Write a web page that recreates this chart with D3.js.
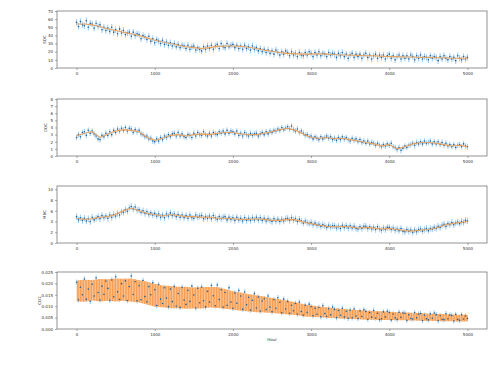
<!DOCTYPE html>
<html>
<head>
<meta charset="utf-8">
<script src="https://cdn.jsdelivr.net/npm/d3@7"></script>
<style>
  body { margin: 0; background: #fff; }
  svg { display: block; font-family: "DejaVu Sans", sans-serif; }
</style>
</head>
<body>
<svg id="chart" width="499" height="375"></svg>
<script>
// sampling grid of the observations (every 25 h) and of the model curves (every 100 h)
const hours = d3.range(0, 5001, 25);
const curveHours = d3.range(0, 5001, 100);

const xTicks = [0, 1000, 2000, 3000, 4000, 5000];
const yLabels = ["SOC", "DOC", "MBC", "CO2"];
const yTicksSoc = [0, 10, 20, 30, 40, 50, 60, 70];
const yTicksDoc = [0, 1, 2, 3, 4, 5, 6, 7, 8];
const yTicksMbc = [0, 2, 4, 6, 8, 10];
const yTicksCo2 = [0, 0.005, 0.01, 0.015, 0.02, 0.025];

// observation error (half width of the light blue bars)
const obsErr = [4, 0.4, 0.6, 0.0012];

const socObs = [
  56, 51, 57, 53, 52, 58, 50, 55, 54, 49, 55, 51, 53, 47, 50, 46, 49, 45, 50, 44,
  47, 42, 48, 43, 46, 41, 43, 44, 39, 44, 40, 42, 41, 36, 40, 38, 35, 39, 33, 36,
  31, 35, 33, 30, 34, 29, 32, 28, 31, 27, 30, 26, 29, 25, 28, 27, 24, 28, 23, 26,
  27, 22, 25, 23, 21, 26, 23, 27, 24, 28, 23, 27, 29, 24, 30, 26, 25, 30, 26, 28,
  29, 25, 28, 24, 27, 23, 28, 24, 26, 22, 27, 23, 25, 21, 24, 20, 23, 19, 22, 18,
  21, 17, 22, 19, 16, 20, 17, 21, 19, 15, 20, 16, 18, 14, 19, 16, 15, 19, 16, 20,
  18, 14, 19, 16, 20, 15, 18, 17, 14, 19, 16, 18, 17, 13, 18, 15, 19, 14, 17, 12,
  16, 18, 13, 17, 14, 17, 12, 16, 18, 13, 16, 11, 15, 17, 12, 16, 13, 16, 11, 15,
  17, 12, 15, 10, 14, 16, 11, 15, 12, 15, 11, 16, 14, 10, 15, 12, 16, 11, 14, 13,
  10, 15, 12, 14, 13, 9, 14, 11, 15, 12, 10, 14, 11, 13, 9, 15, 12, 10, 14, 11,
  13
];
const socMean = [
  54, 54, 53, 51, 48, 46, 44, 42, 40, 37, 34, 32, 30, 28, 26, 25, 24, 25, 26.5, 27,
  27, 26.5, 25.5, 24, 22, 20.5, 19, 18, 17.5, 17, 17, 17.5, 17, 16.5, 16, 16, 15.5, 15, 15, 14.5,
  14, 14, 13.5, 13.5, 13, 13, 12.5, 12.5, 12, 12, 12
];

const docObs = [
  2.6, 3.0, 2.7, 3.3, 3.4, 2.9, 3.6, 3.2, 3.5, 3.1, 2.8, 2.4, 2.3, 2.9, 2.7, 3.2, 2.9, 3.4, 3.0, 3.6,
  3.3, 3.8, 3.5, 3.9, 3.6, 4.0, 3.5, 3.9, 3.8, 3.3, 3.7, 3.4, 3.6, 3.1, 3.0, 2.7, 2.8, 2.4, 2.5, 2.1,
  2.0, 2.4, 2.1, 2.6, 2.3, 2.8, 2.6, 3.0, 2.7, 3.1, 3.2, 2.8, 3.3, 2.8, 3.1, 2.7, 2.6, 3.0, 2.9, 2.6,
  3.2, 2.8, 3.3, 3.0, 2.9, 3.4, 3.0, 2.8, 3.2, 2.8, 3.3, 3.1, 3.0, 3.4, 3.2, 3.5, 3.1, 3.6, 3.2, 3.5,
  3.4, 3.1, 3.5, 2.9, 3.2, 2.8, 3.3, 3.0, 2.8, 3.2, 2.9, 3.1, 3.2, 2.8, 3.1, 3.3, 3.0, 3.4, 3.1, 3.5,
  3.3, 3.6, 3.5, 3.8, 3.6, 4.0, 3.7, 3.9, 4.1, 3.8, 4.2, 3.7, 3.5, 3.8, 3.3, 3.5, 3.2, 2.9, 3.0, 2.7,
  2.8, 2.4, 2.7, 2.5, 2.3, 2.7, 2.4, 2.6, 2.8, 2.5, 2.7, 2.3, 2.5, 2.2, 2.6, 2.3, 2.7, 2.4, 2.6, 2.3,
  2.1, 2.5, 2.2, 2.4, 2.0, 2.3, 1.9, 2.1, 1.8, 2.1, 1.7, 1.9, 1.8, 1.5, 1.8, 1.5, 1.3, 1.6, 1.4, 1.7,
  1.5, 1.8, 1.3, 1.2, 0.9, 1.2, 0.8, 1.1, 1.4, 1.2, 1.5, 1.6, 1.8, 1.5, 1.9, 1.7, 2.0, 1.7, 2.1, 1.8,
  1.9, 2.1, 1.7, 2.0, 1.7, 2.0, 1.6, 1.9, 1.5, 1.8, 1.4, 1.6, 1.3, 1.6, 1.2, 1.5, 1.6, 1.3, 1.7, 1.4,
  1.3
];
const docMean = [
  2.8, 3.2, 3.4, 2.6, 3.1, 3.5, 3.7, 3.6, 3.4, 2.6, 2.2, 2.5, 2.9, 3.0, 2.8, 3.0, 3.1, 3.0, 3.2, 3.3,
  3.3, 3.1, 3.0, 3.0, 3.2, 3.4, 3.7, 3.9, 3.6, 3.1, 2.6, 2.5, 2.6, 2.4, 2.5, 2.3, 2.1, 1.9, 1.7, 1.4,
  1.6, 1.0, 1.3, 1.7, 1.9, 1.9, 1.8, 1.6, 1.4, 1.5, 1.3
];

const mbcObs = [
  4.9, 4.3, 4.7, 4.2, 4.6, 4.1, 4.5, 4.0, 4.8, 4.3, 4.6, 4.9, 4.5, 5.1, 4.7, 5.0, 4.6, 5.2, 4.8, 5.3,
  5.0, 5.5, 5.2, 5.8, 5.7, 6.2, 5.9, 6.5, 6.8, 6.3, 6.7, 6.1, 6.2, 5.7, 6.0, 5.5, 5.8, 5.3, 5.6, 5.2,
  5.5, 5.0, 5.4, 4.8, 5.2, 4.7, 5.4, 5.0, 5.6, 5.1, 5.4, 4.9, 5.3, 4.8, 5.2, 4.7, 5.1, 4.6, 5.2, 4.7,
  4.6, 5.2, 4.8, 5.0, 5.1, 4.5, 4.9, 4.6, 5.0, 4.5, 5.1, 4.7, 4.4, 4.9, 4.5, 4.8, 4.9, 4.3, 4.8, 4.4,
  4.7, 4.2, 4.8, 4.3, 4.6, 4.1, 4.7, 4.2, 4.6, 4.2, 4.7, 4.3, 4.8, 4.3, 4.7, 4.2, 4.6, 4.1, 4.5, 4.2,
  4.0, 4.5, 4.1, 4.4, 4.0, 4.4, 4.1, 4.5, 4.6, 4.2, 4.7, 4.3, 4.5, 4.0, 4.4, 4.1, 3.7, 4.1, 3.8, 3.6,
  3.8, 3.4, 3.7, 3.3, 3.5, 3.1, 3.4, 3.2, 2.9, 3.3, 3.0, 3.2, 3.2, 2.8, 3.1, 2.7, 3.3, 2.9, 3.2, 2.8,
  3.2, 2.8, 3.1, 2.7, 2.6, 3.0, 2.7, 3.1, 3.1, 2.7, 3.0, 2.6, 2.9, 2.5, 3.0, 2.6, 2.4, 2.8, 2.5, 2.9,
  2.9, 2.5, 2.8, 2.4, 2.6, 2.3, 2.7, 2.2, 2.1, 2.5, 2.2, 2.4, 2.0, 2.4, 2.1, 2.5, 2.6, 2.2, 2.5, 2.7,
  2.3, 2.7, 2.6, 2.9, 2.7, 3.1, 2.9, 3.3, 3.5, 3.1, 3.6, 3.4, 3.8, 3.4, 3.7, 3.9, 3.6, 4.0, 3.8, 4.2,
  4.1
];
const mbcMean = [
  4.6, 4.4, 4.5, 4.8, 4.9, 5.3, 6.0, 6.5, 6.0, 5.5, 5.3, 5.0, 5.3, 5.1, 4.9, 4.9, 4.8, 4.8, 4.6, 4.6,
  4.5, 4.4, 4.4, 4.5, 4.4, 4.2, 4.2, 4.4, 4.3, 3.9, 3.6, 3.3, 3.1, 3.0, 3.1, 3.0, 2.8, 2.9, 2.8, 2.6,
  2.7, 2.5, 2.3, 2.2, 2.4, 2.5, 2.8, 3.3, 3.6, 3.8, 4.0
];

const co2Obs = [
  0.0205, 0.0128, 0.0183, 0.0150, 0.0219, 0.0131, 0.0175, 0.0122, 0.0196, 0.0145, 0.0224, 0.0160,
  0.0127, 0.0188, 0.0152, 0.0210, 0.0178, 0.0126, 0.0215, 0.0141, 0.0229, 0.0163, 0.0130, 0.0199,
  0.0145, 0.0211, 0.0125, 0.0186, 0.0232, 0.0151, 0.0207, 0.0124, 0.0190, 0.0128, 0.0213, 0.0142,
  0.0119, 0.0186, 0.0150, 0.0203, 0.0172, 0.0103, 0.0195, 0.0131, 0.0112, 0.0181, 0.0136, 0.0098,
  0.0175, 0.0120, 0.0186, 0.0101, 0.0156, 0.0095, 0.0182, 0.0127, 0.0108, 0.0170, 0.0121, 0.0188,
  0.0149, 0.0092, 0.0179, 0.0115, 0.0184, 0.0124, 0.0097, 0.0165, 0.0118, 0.0191, 0.0146, 0.0102,
  0.0193, 0.0129, 0.0172, 0.0096, 0.0160, 0.0104, 0.0181, 0.0118, 0.0091, 0.0158, 0.0113, 0.0169,
  0.0145, 0.0087, 0.0162, 0.0106, 0.0139, 0.0083, 0.0126, 0.0155, 0.0092, 0.0140, 0.0079, 0.0123,
  0.0133, 0.0085, 0.0145, 0.0096, 0.0076, 0.0128, 0.0091, 0.0137, 0.0117, 0.0072, 0.0131, 0.0088,
  0.0121, 0.0069, 0.0104, 0.0080, 0.0112, 0.0066, 0.0118, 0.0077, 0.0061, 0.0104, 0.0073, 0.0109,
  0.0098, 0.0058, 0.0091, 0.0065, 0.0094, 0.0054, 0.0102, 0.0068, 0.0056, 0.0089, 0.0062, 0.0096,
  0.0086, 0.0050, 0.0081, 0.0060, 0.0091, 0.0053, 0.0078, 0.0047, 0.0082, 0.0049, 0.0088, 0.0057,
  0.0046, 0.0079, 0.0055, 0.0084, 0.0077, 0.0043, 0.0072, 0.0052, 0.0081, 0.0048, 0.0069, 0.0041,
  0.0045, 0.0075, 0.0053, 0.0078, 0.0072, 0.0040, 0.0066, 0.0049, 0.0042, 0.0073, 0.0051, 0.0070,
  0.0069, 0.0038, 0.0062, 0.0046, 0.0044, 0.0071, 0.0049, 0.0065, 0.0068, 0.0037, 0.0060, 0.0045,
  0.0040, 0.0066, 0.0047, 0.0070, 0.0063, 0.0036, 0.0058, 0.0043, 0.0041, 0.0067, 0.0045, 0.0061,
  0.0059, 0.0035, 0.0064, 0.0042, 0.0038, 0.0062, 0.0044, 0.0057, 0.0046
];
const co2Mean = [
  0.0167, 0.0168, 0.0170, 0.0170, 0.0171, 0.0171, 0.0172, 0.0170, 0.0165, 0.0158, 0.0148, 0.0143,
  0.0140, 0.0138, 0.0137, 0.0136, 0.0137, 0.0139, 0.0138, 0.0132, 0.0125, 0.0120, 0.0115, 0.0111,
  0.0107, 0.0103, 0.0099, 0.0094, 0.0089, 0.0083, 0.0078, 0.0075, 0.0072, 0.0069, 0.0067, 0.0065,
  0.0063, 0.0061, 0.0060, 0.0059, 0.0058, 0.0056, 0.0055, 0.0054, 0.0053, 0.0052, 0.0051, 0.0050,
  0.0049, 0.0048, 0.0048
];
// half width of the model band (orange)
const co2Spread = [
  0.0046, 0.0048, 0.0045, 0.0049, 0.0047, 0.0050, 0.0048, 0.0051, 0.0049, 0.0050, 0.0050, 0.0048,
  0.0049, 0.0047, 0.0048, 0.0046, 0.0047, 0.0045, 0.0046, 0.0043, 0.0041, 0.0040, 0.0038, 0.0037,
  0.0035, 0.0033, 0.0032, 0.0030, 0.0028, 0.0027, 0.0025, 0.0024, 0.0023, 0.0022, 0.0022, 0.0021,
  0.0020, 0.0020, 0.0019, 0.0019, 0.0018, 0.0018, 0.0017, 0.0017, 0.0017, 0.0016, 0.0016, 0.0016,
  0.0015, 0.0015, 0.0015
];

const panels = [
  { label: yLabels[0], obs: socObs, mean: socMean, spread: null, err: obsErr[0], ticks: yTicksSoc, top: 70, fmt: d3.format("d"), labelX: 46 },
  { label: yLabels[1], obs: docObs, mean: docMean, spread: null, err: obsErr[1], ticks: yTicksDoc, top: 8, fmt: d3.format("d"), labelX: 47 },
  { label: yLabels[2], obs: mbcObs, mean: mbcMean, spread: null, err: obsErr[2], ticks: yTicksMbc, top: 10.6, fmt: d3.format("d"), labelX: 46 },
  { label: yLabels[3], obs: co2Obs, mean: co2Mean, spread: co2Spread, err: obsErr[3], ticks: yTicksCo2, top: 0.025, fmt: d3.format(".3f"), labelX: 41 }
];

const svg = d3.select("#chart");
const left = 57, right = 487;
const panelTops = [11, 99, 186, 272];
const panelH = 57;

// thin vertical stripes, like many dense orange error bars
const pat = svg.append("defs").append("pattern")
  .attr("id", "stripes")
  .attr("patternUnits", "userSpaceOnUse")
  .attr("width", 1.6)
  .attr("height", 4);
pat.append("rect").attr("width", 1.6).attr("height", 4).attr("fill", "#fbd3ad");
pat.append("rect").attr("width", 1.0).attr("height", 4).attr("fill", "#f59a4c");

const x = d3.scaleLinear().domain([-250, 5250]).range([left, right]);

panels.forEach((p, i) => {
  const top = panelTops[i];
  const y = d3.scaleLinear().domain([0, p.top]).range([top + panelH, top]);
  const g = svg.append("g");

  // light blue error bars of the observations
  g.append("g")
    .selectAll("line")
    .data(p.obs)
    .enter()
    .append("line")
    .attr("x1", (d, k) => x(hours[k]))
    .attr("x2", (d, k) => x(hours[k]))
    .attr("y1", d => y(d - p.err))
    .attr("y2", d => y(d + p.err))
    .attr("stroke", "#a3cdee")
    .attr("stroke-width", 1.1);

  // model band
  if (p.spread) {
    const area = d3.area()
      .x((d, k) => x(curveHours[k]))
      .y0((d, k) => y(d - p.spread[k]))
      .y1((d, k) => y(d + p.spread[k]));
    g.append("path")
      .datum(p.mean)
      .attr("d", area)
      .attr("fill", "url(#stripes)");
  }

  // observations
  g.append("g")
    .selectAll("circle")
    .data(p.obs)
    .enter()
    .append("circle")
    .attr("cx", (d, k) => x(hours[k]))
    .attr("cy", d => y(d))
    .attr("r", 0.8)
    .attr("fill", "#1f5f94");

  if (!p.spread) {
    const line = d3.line()
      .x((d, k) => x(curveHours[k]))
      .y(d => y(d));
    g.append("path")
      .datum(p.mean)
      .attr("d", line)
      .attr("fill", "none")
      .attr("stroke", "#e8a25f")
      .attr("stroke-width", 1.1);
  }

  // axes
  const xAxis = d3.axisBottom(x).tickValues(xTicks).tickSize(2).tickPadding(2).tickFormat(d3.format("d"));
  const yAxis = d3.axisLeft(y).tickValues(p.ticks).tickSize(2).tickPadding(2).tickFormat(p.fmt);

  const gx = g.append("g").attr("transform", `translate(0,${top + panelH})`).call(xAxis);
  const gy = g.append("g").attr("transform", `translate(${left},0)`).call(yAxis);
  [gx, gy].forEach(a => {
    a.select(".domain").remove();
    a.selectAll("line").attr("stroke", "#555").attr("stroke-width", 0.5);
    a.selectAll("text").attr("font-size", 4).attr("fill", "#333").attr("font-family", "DejaVu Sans");
  });

  g.append("rect")
    .attr("x", left)
    .attr("y", top)
    .attr("width", right - left)
    .attr("height", panelH)
    .attr("fill", "none")
    .attr("stroke", "#666")
    .attr("stroke-width", 0.7);

  g.append("text")
    .attr("transform", `translate(${p.labelX},${top + panelH / 2}) rotate(-90)`)
    .attr("text-anchor", "middle")
    .attr("font-size", 4)
    .attr("fill", "#333")
    .text(p.label);
});

svg.append("text")
  .attr("x", x(2500))
  .attr("y", panelTops[3] + panelH + 12)
  .attr("text-anchor", "middle")
  .attr("font-size", 4)
  .attr("fill", "#333")
  .text("Hour");
</script>
</body>
</html>
